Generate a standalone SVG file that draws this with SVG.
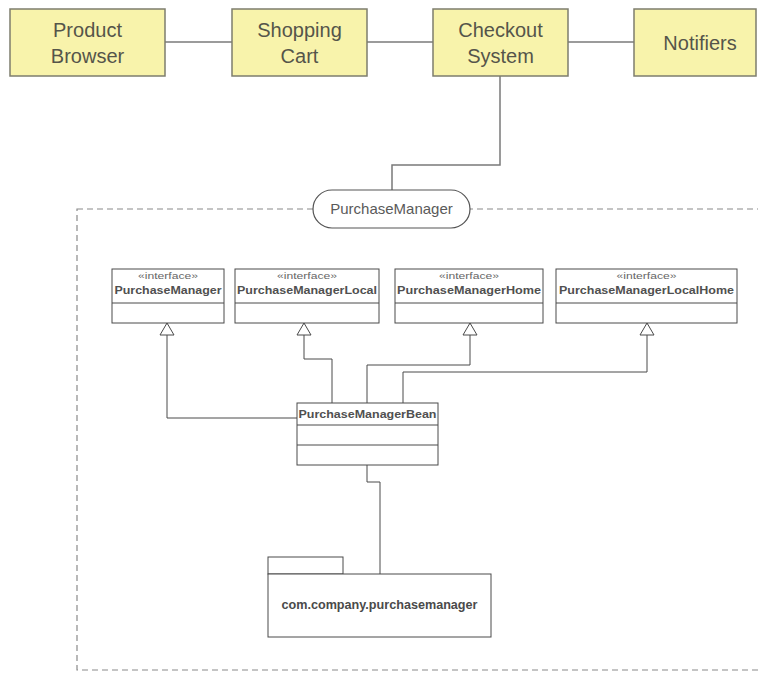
<svg xmlns="http://www.w3.org/2000/svg" width="758" height="675" viewBox="0 0 758 675">
<style>
.sys{fill:#f8f3ab;stroke:#7d7d6e;stroke-width:1.5}
.sys-t{font-family:"Liberation Sans",Arial,sans-serif;font-size:20px;fill:#55554a;text-anchor:middle}
.conn{fill:none;stroke:#7a7a7a;stroke-width:1.5}
.uml{fill:#fff;stroke:#4a4a4a;stroke-width:1}
.uline{fill:none;stroke:#4a4a4a;stroke-width:1}
.st{font-family:"Liberation Sans",Arial,sans-serif;font-size:9px;fill:#666;text-anchor:middle}
.nm{font-family:"Liberation Sans",Arial,sans-serif;font-size:11px;font-weight:bold;fill:#505050;text-anchor:middle}
.pill-t{font-family:"Liberation Sans",Arial,sans-serif;font-size:15px;fill:#5a5a5a;text-anchor:middle}
.pk-t{font-family:"Liberation Sans",Arial,sans-serif;font-size:12px;font-weight:bold;fill:#4a4a4a;text-anchor:middle}
</style>
<defs>
<marker id="gen" markerWidth="16" markerHeight="18" refX="13" refY="8" orient="auto" markerUnits="userSpaceOnUse">
<path d="M1,1 L13,8 L1,15 Z" fill="#fff" stroke="#4a4a4a" stroke-width="1"/>
</marker>
</defs>
<rect width="758" height="675" fill="#fff"/>
<rect id="container" x="77" y="209" width="700" height="461" fill="none" stroke="#8a8a8a" stroke-width="1.2" stroke-dasharray="6 4"/>
<g id="connectors">
<line class="conn" x1="165" y1="42" x2="232" y2="42"/>
<line class="conn" x1="367" y1="42" x2="433" y2="42"/>
<line class="conn" x1="568" y1="42" x2="634" y2="42"/>
<path class="conn" d="M500,76 V165 H392 V190"/>
<path class="uline" d="M297,418 H167 V323" marker-end="url(#gen)"/>
<path class="uline" d="M332,403 V359 H304 V323" marker-end="url(#gen)"/>
<path class="uline" d="M367,403 V365 H470 V323" marker-end="url(#gen)"/>
<path class="uline" d="M403,403 V372 H647 V323" marker-end="url(#gen)"/>
<path class="uline" d="M367,465 V482 H380 V574"/>
</g>
<g id="product-browser">
<rect class="sys" x="10" y="9" width="155" height="67"/>
<text class="sys-t" x="87.5" y="37">Product</text>
<text class="sys-t" x="87.5" y="63">Browser</text>
</g>
<g id="shopping-cart">
<rect class="sys" x="232" y="9" width="135" height="67"/>
<text class="sys-t" x="299.5" y="37">Shopping</text>
<text class="sys-t" x="299.5" y="63">Cart</text>
</g>
<g id="checkout-system">
<rect class="sys" x="433" y="9" width="135" height="67"/>
<text class="sys-t" x="500.5" y="37">Checkout</text>
<text class="sys-t" x="500.5" y="63">System</text>
</g>
<g id="notifiers">
<rect class="sys" x="634" y="9" width="122" height="67"/>
<text class="sys-t" x="700" y="50">Notifiers</text>
</g>
<g id="purchase-manager-port">
<rect x="313" y="190" width="157" height="38" rx="19" fill="#fff" stroke="#555" stroke-width="1.2"/>
<text class="pill-t" x="391.5" y="214">PurchaseManager</text>
</g>
<g id="i-purchasemanager">
<rect class="uml" x="112" y="269" width="112" height="54"/>
<line class="uline" x1="112" y1="303" x2="224" y2="303"/>
<text class="st" x="168" y="279" textLength="60" lengthAdjust="spacingAndGlyphs">«interface»</text>
<text class="nm" x="168" y="294" textLength="107" lengthAdjust="spacingAndGlyphs">PurchaseManager</text>
</g>
<g id="i-purchasemanagerlocal">
<rect class="uml" x="235" y="269" width="144" height="54"/>
<line class="uline" x1="235" y1="303" x2="379" y2="303"/>
<text class="st" x="307" y="279" textLength="60" lengthAdjust="spacingAndGlyphs">«interface»</text>
<text class="nm" x="307" y="294" textLength="140" lengthAdjust="spacingAndGlyphs">PurchaseManagerLocal</text>
</g>
<g id="i-purchasemanagerhome">
<rect class="uml" x="395" y="269" width="148" height="54"/>
<line class="uline" x1="395" y1="303" x2="543" y2="303"/>
<text class="st" x="469" y="279" textLength="60" lengthAdjust="spacingAndGlyphs">«interface»</text>
<text class="nm" x="469" y="294" textLength="144" lengthAdjust="spacingAndGlyphs">PurchaseManagerHome</text>
</g>
<g id="i-purchasemanagerlocalhome">
<rect class="uml" x="556" y="269" width="181" height="54"/>
<line class="uline" x1="556" y1="303" x2="737" y2="303"/>
<text class="st" x="646.5" y="279" textLength="60" lengthAdjust="spacingAndGlyphs">«interface»</text>
<text class="nm" x="646.5" y="294" textLength="175" lengthAdjust="spacingAndGlyphs">PurchaseManagerLocalHome</text>
</g>
<g id="purchasemanagerbean">
<rect class="uml" x="297" y="403" width="141" height="62"/>
<line class="uline" x1="297" y1="425" x2="438" y2="425"/>
<line class="uline" x1="297" y1="445" x2="438" y2="445"/>
<text class="nm" x="367.5" y="418" textLength="138" lengthAdjust="spacingAndGlyphs">PurchaseManagerBean</text>
</g>
<g id="package">
<rect class="uml" x="268" y="557" width="75" height="17"/>
<rect class="uml" x="268" y="574" width="223" height="63"/>
<text class="pk-t" x="379.5" y="609" textLength="196" lengthAdjust="spacingAndGlyphs">com.company.purchasemanager</text>
</g>
</svg>
